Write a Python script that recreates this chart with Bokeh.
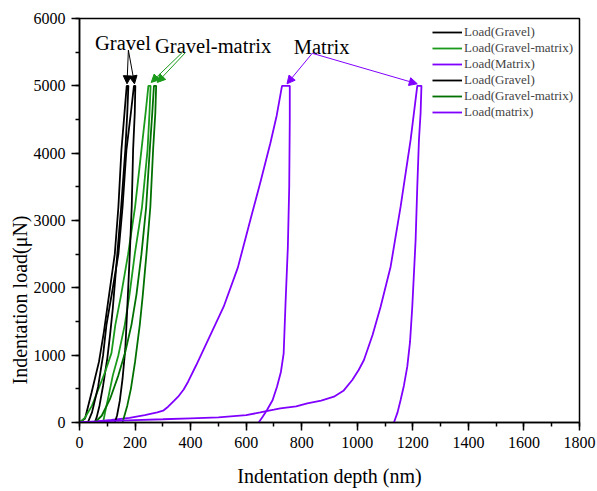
from math import pi
from bokeh.plotting import figure
from bokeh.models import (Range1d, SingleIntervalTicker, Legend, LegendItem,
                          Label, Arrow, NormalHead, Title)
from bokeh.embed import file_html
from bokeh.resources import INLINE

# ---------------- data (depth in nm, load in uN) ----------------
gravel1_depth = [0, 20, 43, 70, 88, 110, 127, 140, 151, 162, 170, 176,
                 172, 165, 150, 136, 120, 110, 100, 85, 72, 62, 55]
gravel1_load = [0, 60, 438, 900, 1350, 2000, 2500, 3200, 4050, 4600, 5000, 5000,
                4600, 4050, 3200, 2500, 1700, 1300, 950, 550, 250, 80, 0]

gmatrix1_depth = [0, 19, 45, 67, 92, 115, 129, 150, 175, 200, 223, 238, 248, 256,
                  252, 245, 225, 199, 180, 163, 140, 120, 105, 92, 85]
gmatrix1_load = [0, 67, 250, 483, 750, 1030, 1450, 1900, 2500, 3200, 4050, 4600, 5000, 5000,
                 4600, 4050, 3200, 2500, 1900, 1450, 1000, 700, 400, 150, 0]

matrix1_depth = [0, 60, 115, 180, 235, 280, 301, 319, 340, 355, 375, 391, 420, 460, 519,
                 570, 615, 650, 687, 710, 729, 757,
                 757, 755, 750, 742, 735, 725, 711, 695, 675, 660, 645]
matrix1_load = [0, 15, 37, 70, 111, 150, 175, 235, 320, 383, 490, 606, 850, 1200, 1720,
                2300, 3008, 3550, 4147, 4560, 5000, 5000,
                4500, 3500, 2600, 1800, 1028, 750, 532, 330, 186, 90, 0]

gravel2_depth = [30, 45, 67, 85, 97, 120, 140, 155, 169, 185, 196, 201,
                 199, 193, 188, 181, 172, 165, 155, 145, 135, 127]
gravel2_load = [0, 150, 532, 1000, 1450, 2000, 2500, 3200, 4050, 4600, 5000, 5000,
                4600, 4050, 3200, 2500, 1700, 1100, 650, 320, 100, 0]

gmatrix2_depth = [55, 80, 110, 140, 165, 187, 205, 223, 240, 253, 262, 268, 276,
                  273, 265, 255, 241, 228, 217, 200, 185, 172, 163, 155]
gmatrix2_load = [0, 100, 350, 700, 1050, 1450, 1900, 2500, 3200, 4050, 4600, 5000, 5000,
                 4600, 4050, 3200, 2500, 1900, 1450, 900, 500, 250, 120, 0]

matrix2_depth = [0, 100, 200, 300, 400, 500, 600, 651, 700, 723, 780, 820, 870, 916, 950,
                 982, 1005, 1024, 1055, 1084, 1120, 1156, 1192, 1216, 1231,
                 1228, 1222, 1216, 1210, 1198, 1190, 1180, 1168, 1156, 1145, 1132]
matrix2_load = [0, 20, 35, 48, 62, 75, 110, 150, 190, 210, 240, 285, 325, 383, 470,
                631, 780, 928, 1300, 1720, 2314, 3205, 4196, 5000, 5000,
                4600, 4196, 3500, 2710, 1720, 1200, 829, 550, 334, 150, 0]

legend_labels = ["Load(Gravel)", "Load(Gravel-matrix)", "Load(Matrix)",
                 "Load(Gravel)", "Load(Gravel-matrix)", "Load(matrix)"]
series_colors = ["#000000", "#1a9a1a", "#8000ff", "#000000", "#007000", "#8000ff"]

x_ticks_interval = 200
y_ticks_interval = 1000

# annotation texts and arrow anchors (data units)
note_texts = ["Gravel", "Gravel-matrix", "Matrix"]
note_x = [56, 272, 771]
note_y = [5630, 5592, 5580]
arrow_start_x = [176, 176, 369, 381, 838, 838]
arrow_start_y = [5530, 5530, 5492, 5492, 5483, 5483]
arrow_end_x = [171, 198, 258, 280, 747, 1216]
arrow_end_y = [5030, 5030, 5050, 5050, 5030, 5030]
arrow_colors = ["#000000", "#000000", "#1a9a1a", "#1a9a1a", "#8000ff", "#8000ff"]

FONT = "Liberation Serif"

p = figure(width=597, height=491, output_backend="svg", toolbar_location=None,
           x_range=Range1d(0, 1800), y_range=Range1d(0, 6000), title=None,
           min_border_left=79, min_border_right=18, min_border_top=18,
           min_border_bottom=69)
p.background_fill_color = "white"
p.border_fill_color = "white"
p.outline_line_color = "black"
p.outline_line_width = 1.5
p.grid.visible = False

p.xaxis.ticker = SingleIntervalTicker(interval=x_ticks_interval, num_minor_ticks=2)
p.yaxis.ticker = SingleIntervalTicker(interval=y_ticks_interval, num_minor_ticks=2)
for ax in (p.xaxis, p.yaxis):
    ax.major_tick_out = 8
    ax.major_tick_in = 0
    ax.minor_tick_out = 4
    ax.minor_tick_in = 0
    ax.axis_line_width = 1.5
    ax.major_tick_line_width = 1.5
    ax.minor_tick_line_width = 1.5
    ax.major_label_text_font = FONT
    ax.major_label_text_font_size = "16px"
    ax.major_label_text_color = "black"
    ax.major_label_standoff = 6
    ax.axis_label_text_font = FONT
    ax.axis_label_text_font_size = "20px"
    ax.axis_label_text_font_style = "normal"
    ax.axis_label_text_color = "black"

p.xaxis.axis_label = "Indentation depth (nm)"
p.xaxis.axis_label_standoff = 14

depths = [gravel1_depth, gmatrix1_depth, matrix1_depth, gravel2_depth, gmatrix2_depth, matrix2_depth]
loads = [gravel1_load, gmatrix1_load, matrix1_load, gravel2_load, gmatrix2_load, matrix2_load]

items = []
for xs, ys, c, lab in zip(depths, loads, series_colors, legend_labels):
    r = p.line(xs, ys, line_color=c, line_width=1.8)
    items.append(LegendItem(label=lab, renderers=[r]))

legend = Legend(items=items, location="top_right", border_line_alpha=0,
                background_fill_alpha=0, label_text_font=FONT,
                label_text_font_size="13px", glyph_width=30, glyph_height=16,
                label_height=16, label_standoff=2, spacing=0, padding=6, margin=0)
p.add_layout(legend)

# y axis title placed in the left panel, shifted along the axis like the reference
p.add_layout(Title(text="Indentation load(μN)", align="left", offset=38,
                   text_font=FONT, text_font_size="20px", text_font_style="normal",
                   text_color="black", standoff=0), "left")

for t, x, y in zip(note_texts, note_x, note_y):
    p.add_layout(Label(x=x, y=y, text=t, text_font=FONT, text_font_size="20.5px",
                       text_color="black", text_baseline="alphabetic"))

for xs, ys, xe, ye, c in zip(arrow_start_x, arrow_start_y, arrow_end_x, arrow_end_y, arrow_colors):
    p.add_layout(Arrow(end=NormalHead(size=8, line_color=c, fill_color=c, line_width=1),
                       x_start=xs, y_start=ys, x_end=xe, y_end=ye,
                       line_color=c, line_width=1))

open("out.html", "w").write(file_html(p, INLINE))
